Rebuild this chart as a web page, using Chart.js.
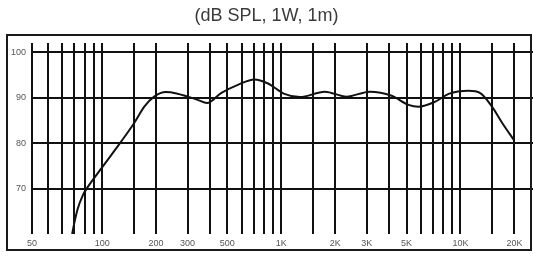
<!DOCTYPE html>
<html>
<head>
<meta charset="utf-8">
<script src="https://cdn.jsdelivr.net/npm/chart.js@4/dist/chart.umd.min.js"></script>
<style>
  html, body { margin: 0; padding: 0; background: #fff; }
  #wrap { position: relative; width: 533px; height: 260px; }
  #frame { position: absolute; left: 6px; top: 34px; width: 522px; height: 213px; border: 2px solid #1a1a1a; pointer-events: none; }
  canvas { position: absolute; left: 0; top: 0; }
</style>
</head>
<body>
<div id="wrap">
  <canvas id="c" width="533" height="260"></canvas>
  <div id="frame"></div>
</div>
<script>
// Frequency response curve (Hz, dB SPL)
const freqs = [68, 70, 73, 78, 83, 98, 127, 151, 172, 195, 227, 260, 300, 341, 385, 461, 572, 708, 843, 1040, 1270, 1750, 2310, 3120, 4130, 5130, 5830, 7230, 8590, 11100, 12900, 15000, 17100, 20000];
const spl   = [60, 62.5, 65.5, 68.5, 70.3, 74.2, 80.2, 84.4, 88, 90.2, 91.2, 90.9, 90.2, 89.5, 88.8, 91, 92.8, 94, 93.1, 90.8, 90.1, 91.3, 90.2, 91.3, 90.4, 88.4, 88.0, 89.1, 90.8, 91.5, 91.0, 88.0, 84.4, 80.5];

// Axis grid / ticks
const xMin = 40.6, xMax = 25400;
const gridFreqs = [40.6, 50, 60, 70, 80, 90, 100, 150, 200, 300, 400, 500, 600, 700, 800, 900, 1000, 1500, 2000, 3000, 4000, 5000, 6000, 7000, 8000, 9000, 10000, 15000, 20000];
const xTickLabels = {40.6: '50', 100: '100', 200: '200', 300: '300', 500: '500', 1000: '1K', 2000: '2K', 3000: '3K', 5000: '5K', 10000: '10K', 20000: '20K'};
const yMin = 60, yMax = 102;
const yTicks = [70, 80, 90, 100];
const title = '(dB SPL, 1W, 1m)';

const points = freqs.map((f, i) => ({ x: f, y: spl[i] }));

new Chart(document.getElementById('c'), {
  type: 'line',
  data: { datasets: [{ data: points, borderColor: '#111', borderWidth: 2, pointRadius: 0, cubicInterpolationMode: 'monotone', fill: false }] },
  options: {
    responsive: false,
    animation: false,
    layout: { padding: { left: 0, right: 0, top: 0, bottom: 0 } },
    plugins: {
      legend: { display: false },
      tooltip: { enabled: false },
      title: { display: true, text: title, color: '#3a3a3a', font: { family: 'Liberation Sans, Arial, sans-serif', size: 18, weight: 'normal' }, padding: { top: 5, bottom: 16.4 } }
    },
    scales: {
      x: {
        type: 'logarithmic', min: xMin, max: xMax,
        afterBuildTicks: s => { s.ticks = gridFreqs.map(v => ({ value: v })); },
        afterFit: s => { s.height = 26; },
        grid: { color: '#111', lineWidth: 2, drawTicks: false },
        border: { display: false },
        ticks: { autoSkip: false, maxRotation: 0, padding: 4, color: '#555', font: { family: 'Liberation Sans, Arial, sans-serif', size: 9 },
          callback: v => (xTickLabels[v] !== undefined ? xTickLabels[v] : '') }
      },
      y: {
        type: 'linear', min: yMin, max: yMax,
        afterBuildTicks: s => { s.ticks = yTicks.map(v => ({ value: v })); },
        afterFit: s => { s.width = 32; },
        grid: { color: '#111', lineWidth: 2, drawTicks: false },
        border: { display: false },
        ticks: { padding: 6, color: '#555', font: { family: 'Liberation Sans, Arial, sans-serif', size: 9 } }
      }
    }
  }
});
</script>
</body>
</html>
